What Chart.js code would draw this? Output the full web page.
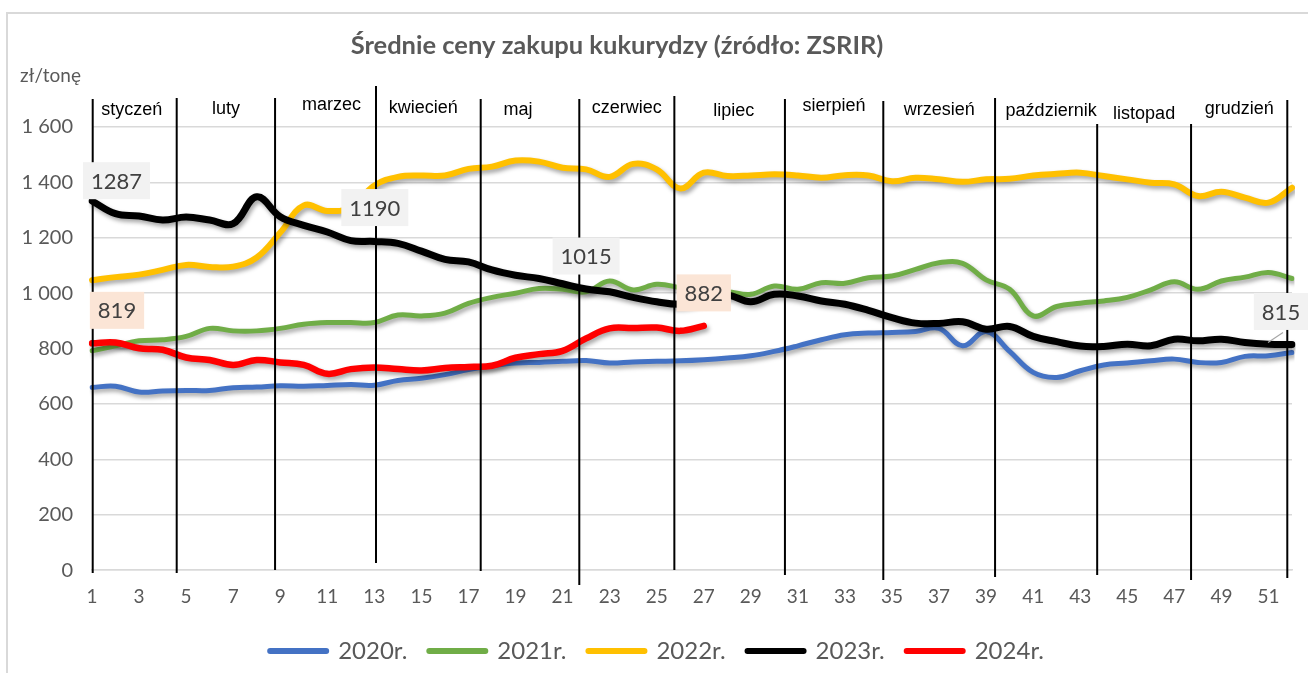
<!DOCTYPE html>
<html><head><meta charset="utf-8">
<script src="https://cdn.jsdelivr.net/npm/chart.js@4.4.1/dist/chart.umd.min.js"></script>
<style>html,body{margin:0;padding:0;background:#fff;}canvas{display:block;}</style>
</head><body>
<canvas id="c" width="1308" height="673"></canvas>
<script>
// ---- data ----
const weeks = ['1','2','3','4','5','6','7','8','9','10','11','12','13','14','15','16','17','18','19','20','21','22','23','24','25','26','27','28','29','30','31','32','33','34','35','36','37','38','39','40','41','42','43','44','45','46','47','48','49','50','51','52'];
const yTicks = [0, 200, 400, 600, 800, 1000, 1200, 1400, 1600];
const seriesNames = ['2020r.', '2021r.', '2022r.', '2023r.', '2024r.'];
const y2020 = [660,664,643,647,649,649,659,661,666,664,667,670,668,685,693,706,724,738,748,750,754,757,748,752,754,756,760,766,774,790,810,832,850,856,858,862,873,810,862,790,714,696,720,741,748,756,762,750,750,772,774,786];
const y2021 = [792,810,828,832,844,873,864,864,873,888,894,894,894,921,918,928,963,985,1000,1017,1014,1005,1044,1012,1032,1020,1005,1005,996,1026,1014,1038,1036,1056,1062,1086,1110,1108,1048,1014,918,952,964,972,985,1012,1041,1014,1044,1058,1075,1053];
const y2022 = [1047,1058,1067,1084,1102,1095,1096,1129,1219,1317,1297,1310,1389,1420,1425,1425,1449,1457,1479,1475,1453,1447,1420,1467,1447,1378,1435,1423,1425,1429,1425,1417,1426,1425,1404,1417,1411,1402,1411,1413,1425,1431,1435,1423,1411,1399,1393,1351,1366,1345,1327,1381];
const y2023 = [1333,1287,1279,1264,1275,1264,1251,1348,1276,1245,1221,1190,1187,1180,1152,1122,1113,1084,1065,1053,1034,1015,1005,985,969,960,975,993,969,996,990,972,960,938,912,892,891,897,870,880,844,825,809,808,816,810,834,828,834,822,816,815];
const y2024 = [819,822,801,796,768,759,741,759,750,741,709,726,732,726,721,730,734,738,767,780,792,837,873,874,876,864,882];
const months = ['styczeń','luty','marzec','kwiecień','maj','czerwiec','lipiec','sierpień','wrzesień','październik','listopad','grudzień'];
const monthBounds = [1.03, 4.6, 8.78, 13.07, 17.52, 21.71, 25.75, 30.45, 34.63, 39.38, 43.72, 47.71, 51.8];
const labelWeeks2023 = [2, 12, 22, 52];
const labelWeeks2024 = [1, 27];
const titleText = 'Średnie ceny zakupu kukurydzy (źródło: ZSRIR)';
const unitText = 'zł/tonę';

// ---- styles ----
const colors = ['#4472C4', '#70AD47', '#FFC000', '#000000', '#FF0000'];
const widths = [5, 5, 6, 7, 6.5];
const monthLineTop = [99, 98, 98, 86, 99, 99, 96, 99, 101, 98, 124, 124, 100];
const monthLineBottom = [573, 573, 570, 563, 571, 585, 570, 575, 580, 577, 575, 580, 578];
const monthLabelY = [110, 109, 105, 108, 110, 108, 111, 106, 110, 111, 114, 109];
const monthLabelDx = [-3, 0, 6, -5, -12, 0, 4, 0, 0, 5, 0, 0];
const labelStyle = {
  '3-2': {dx: 1, bg: '#f2f2f2'},
  '3-12': {dx: 24, bg: '#f2f2f2'},
  '3-22': {dx: 0, bg: '#f2f2f2'},
  '3-52': {dx: -11, bg: '#f2f2f2', leader: true},
  '4-1': {dx: 25, bg: '#fbe5d6'},
  '4-27': {dx: 0, bg: '#fbe5d6'}
};

const fmt = v => String(v).replace(/\B(?=(\d{3})+(?!\d))/g, ' ');

const decor = {
  id: 'decor',
  beforeDraw(chart) {
    const ctx = chart.ctx;
    ctx.save();
    ctx.fillStyle = '#fff';
    ctx.fillRect(0, 0, chart.width, chart.height);
    ctx.strokeStyle = '#d9d9d9';
    ctx.lineWidth = 2;
    ctx.beginPath();
    ctx.moveTo(7, 700); ctx.lineTo(7, 13); ctx.lineTo(1320, 13);
    ctx.stroke();
    // title
    ctx.fillStyle = '#595959';
    ctx.font = 'bold 25.5px Lato';
    ctx.textAlign = 'center';
    ctx.textBaseline = 'middle';
    ctx.fillText(titleText, 617, 46);
    ctx.font = '19px Lato';
    ctx.textAlign = 'left';
    ctx.fillText(unitText, 20, 76);
    ctx.restore();
  },
  beforeDatasetDraw(chart) {
    const ctx = chart.ctx;
    ctx.save();
    ctx.shadowColor = 'rgba(0,0,0,0.35)';
    ctx.shadowBlur = 4;
    ctx.shadowOffsetX = 2;
    ctx.shadowOffsetY = 3;
  },
  afterDatasetDraw(chart) {
    chart.ctx.restore();
  },
  afterDatasetsDraw(chart) {
    const ctx = chart.ctx;
    const xs = chart.scales.x;
    ctx.save();
    // month separators
    ctx.strokeStyle = '#000';
    ctx.lineWidth = 2;
    monthBounds.forEach((w, i) => {
      const px = xs.getPixelForValue(w - 1);
      ctx.beginPath();
      ctx.moveTo(px, monthLineTop[i]);
      ctx.lineTo(px, monthLineBottom[i]);
      ctx.stroke();
    });
    // month labels
    ctx.fillStyle = '#000';
    ctx.font = '18px "Liberation Sans Narrow", "Arial Narrow", Arial';
    ctx.textAlign = 'center';
    ctx.textBaseline = 'middle';
    months.forEach((m, i) => {
      const mid = (monthBounds[i] + monthBounds[i + 1]) / 2;
      const px = xs.getPixelForValue(mid - 1) + monthLabelDx[i];
      ctx.fillText(m, px, monthLabelY[i]);
    });
    // data labels
    ctx.font = '22px Lato';
    const drawLabels = (dsIndex, weeksList) => {
      const meta = chart.getDatasetMeta(dsIndex);
      const data = chart.data.datasets[dsIndex].data;
      weeksList.forEach(w => {
        const st = labelStyle[dsIndex + '-' + w];
        const pt = meta.data[w - 1];
        const txt = String(data[w - 1]);
        const cx = pt.x + st.dx, cy = pt.y - 33;
        const tw = ctx.measureText(txt).width;
        if (st.leader) {
          ctx.strokeStyle = '#a6a6a6';
          ctx.lineWidth = 1.2;
          ctx.beginPath();
          ctx.moveTo(pt.x - 24, pt.y - 2);
          ctx.lineTo(pt.x - 9, pt.y - 12);
          ctx.stroke();
        }
        ctx.fillStyle = st.bg;
        ctx.fillRect(cx - tw / 2 - 8, cy - 18.5, tw + 16, 37);
        ctx.fillStyle = '#404040';
        ctx.fillText(txt, cx, cy + 1);
      });
    };
    drawLabels(3, labelWeeks2023);
    drawLabels(4, labelWeeks2024);
    ctx.restore();
  }
};

const seriesData = [y2020, y2021, y2022, y2023, y2024];
const datasets = seriesData.map((d, i) => ({
  label: seriesNames[i],
  data: d,
  borderColor: colors[i],
  backgroundColor: colors[i],
  borderWidth: widths[i],
  borderCapStyle: 'round',
  borderJoinStyle: 'round',
  pointRadius: 0,
  pointHoverRadius: 0,
  tension: 0.4,
  fill: false,
  order: 5 - i
}));

const baseGen = Chart.defaults.plugins.legend.labels.generateLabels;

new Chart(document.getElementById('c'), {
  type: 'line',
  data: { labels: weeks, datasets },
  options: {
    responsive: false,
    animation: false,
    devicePixelRatio: 1,
    layout: { padding: { top: 127, right: 16, left: 22, bottom: 0 } },
    scales: {
      x: {
        type: 'category',
        offset: false,
        afterFit(scale) { scale.height -= 6; },
        grid: { display: false, drawTicks: false },
        border: { display: true, color: '#d9d9d9', width: 1.5 },
        ticks: {
          autoSkip: false, maxRotation: 0, padding: 15, color: '#595959',
          font: { family: 'Lato', size: 19 },
          callback: (v, i) => (i % 2 === 0 ? weeks[i] : '')
        }
      },
      y: {
        min: 0, max: 1600,
        afterFit(scale) { scale.width = 70; },
        afterBuildTicks(scale) { scale.ticks = yTicks.map(v => ({ value: v })); },
        grid: { color: '#d9d9d9', lineWidth: 1.5, drawTicks: false },
        border: { display: false },
        ticks: {
          padding: 19, color: '#595959',
          font: { family: 'Lato', size: 20 },
          callback: v => fmt(v)
        }
      }
    },
    plugins: {
      title: { display: false },
      tooltip: { enabled: false },
      legend: {
        position: 'bottom',
        labels: {
          usePointStyle: true,
          pointStyle: 'line',
          pointStyleWidth: 56,
          padding: 22,
          color: '#595959',
          font: { family: 'Lato', size: 24 },
          sort: (a, b) => a.datasetIndex - b.datasetIndex,
          generateLabels(chart) {
            return baseGen(chart).map(it => Object.assign(it, { lineWidth: 6, lineCap: 'round', pointStyle: 'line' }));
          }
        }
      }
    }
  },
  plugins: [decor]
});
</script>
</body></html>
